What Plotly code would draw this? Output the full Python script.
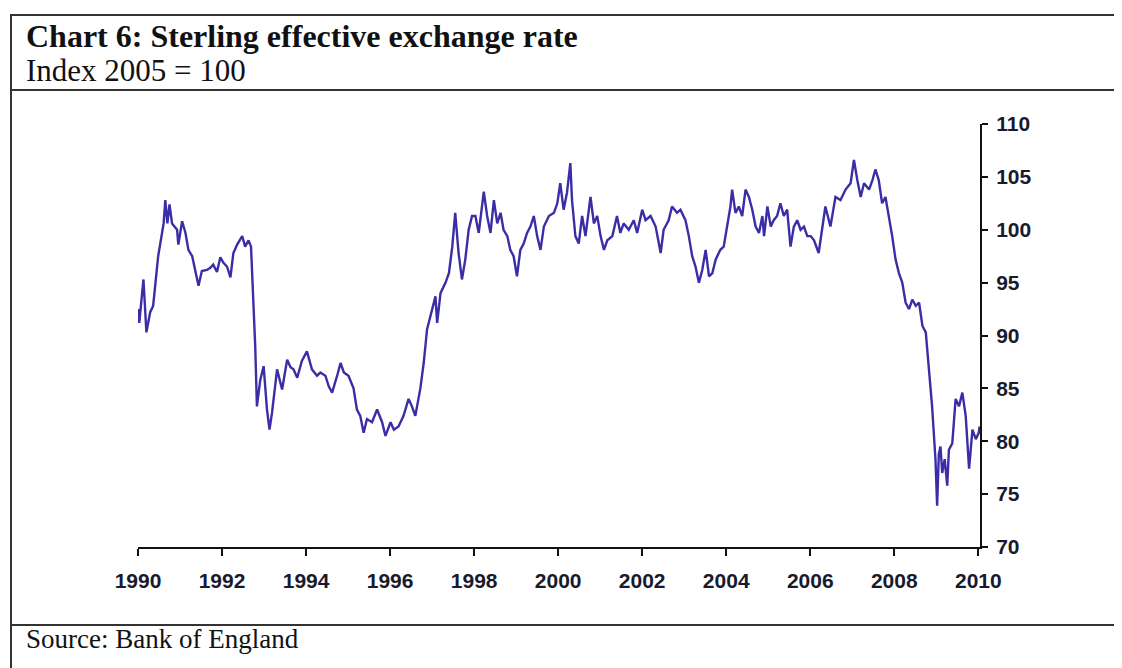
import plotly.graph_objects as go

# ---- data ----
years = [
    1990.01, 1990.03, 1990.13, 1990.20, 1990.29, 1990.36, 1990.48, 1990.61, 1990.65, 1990.70,
    1990.75, 1990.81, 1990.93, 1990.96, 1991.05, 1991.13, 1991.20, 1991.29, 1991.36, 1991.44,
    1991.52, 1991.64, 1991.72, 1991.79, 1991.88, 1991.96, 1992.03, 1992.12, 1992.20, 1992.27,
    1992.36, 1992.48, 1992.55, 1992.63, 1992.69, 1992.72, 1992.79, 1992.83, 1992.91, 1992.99,
    1993.03, 1993.07, 1993.13, 1993.19, 1993.31, 1993.43, 1993.55, 1993.63, 1993.70, 1993.79,
    1993.90, 1994.02, 1994.14, 1994.26, 1994.34, 1994.46, 1994.54, 1994.62, 1994.74, 1994.82,
    1994.90, 1995.01, 1995.13, 1995.21, 1995.29, 1995.37, 1995.45, 1995.57, 1995.69, 1995.81,
    1995.89, 1996.01, 1996.09, 1996.20, 1996.32, 1996.44, 1996.52, 1996.60, 1996.72, 1996.80,
    1996.88, 1997.00, 1997.08, 1997.12, 1997.20, 1997.32, 1997.40, 1997.48, 1997.55, 1997.63,
    1997.71, 1997.79, 1997.87, 1997.95, 1998.03, 1998.11, 1998.23, 1998.31, 1998.39, 1998.47,
    1998.55, 1998.63, 1998.70, 1998.79, 1998.86, 1998.94, 1999.02, 1999.10, 1999.18, 1999.26,
    1999.34, 1999.42, 1999.50, 1999.58, 1999.66, 1999.78, 1999.90, 1999.98, 2000.05, 2000.13,
    2000.21, 2000.29, 2000.33, 2000.41, 2000.49, 2000.57, 2000.65, 2000.77, 2000.85, 2000.93,
    2001.01, 2001.09, 2001.17, 2001.29, 2001.40, 2001.48, 2001.56, 2001.68, 2001.80, 2001.88,
    2002.00, 2002.08, 2002.20, 2002.32, 2002.44, 2002.51, 2002.63, 2002.71, 2002.83, 2002.91,
    2003.03, 2003.11, 2003.19, 2003.27, 2003.35, 2003.43, 2003.51, 2003.59, 2003.67, 2003.75,
    2003.86, 2003.94, 2004.02, 2004.10, 2004.14, 2004.22, 2004.30, 2004.38, 2004.46, 2004.54,
    2004.62, 2004.70, 2004.78, 2004.86, 2004.90, 2004.98, 2005.06, 2005.13, 2005.21, 2005.29,
    2005.37, 2005.45, 2005.53, 2005.61, 2005.69, 2005.77, 2005.85, 2005.93, 2006.01, 2006.09,
    2006.20, 2006.36, 2006.48, 2006.60, 2006.72, 2006.84, 2006.96, 2007.04, 2007.12, 2007.20,
    2007.28, 2007.40, 2007.48, 2007.55, 2007.63, 2007.71, 2007.79, 2007.87, 2007.95, 2008.03,
    2008.11, 2008.19, 2008.27, 2008.35, 2008.43, 2008.51, 2008.59, 2008.67, 2008.75, 2008.79,
    2008.85, 2008.90, 2008.94, 2008.98, 2009.02, 2009.06, 2009.10, 2009.14, 2009.20, 2009.26,
    2009.30, 2009.38, 2009.46, 2009.54, 2009.62, 2009.70, 2009.78, 2009.86, 2009.94, 2010.01,
    2010.03,
]
index_values = [
    92.5, 91.2, 95.3, 90.3, 92.2, 92.8, 97.5, 100.6, 102.8, 100.6,
    102.4, 100.6, 100.0, 98.6, 100.8, 99.7, 98.1, 97.5, 96.2, 94.7,
    96.1, 96.2, 96.4, 96.7, 96.0, 97.4, 96.9, 96.5, 95.5, 97.8,
    98.6, 99.4, 98.4, 99.0, 98.4, 96.0, 89.0, 83.3, 85.8, 87.1,
    84.6, 83.0, 81.1, 82.7, 86.8, 84.9, 87.7, 87.0, 86.8, 86.0,
    87.6, 88.5, 86.8, 86.2, 86.5, 86.2, 85.2, 84.6, 86.2, 87.4,
    86.5, 86.2, 85.0, 83.0, 82.4, 80.8, 82.1, 81.8, 83.0, 81.8,
    80.5, 81.8, 81.1, 81.4, 82.4, 84.0, 83.3, 82.4, 85.0, 87.4,
    90.6, 92.5, 93.7, 91.2, 94.0, 95.0, 95.9, 98.4, 101.6, 97.8,
    95.3, 97.2, 100.0, 101.3, 101.3, 99.7, 103.6, 101.3, 99.7, 102.8,
    100.6, 101.6, 100.0, 99.4, 98.1, 97.5, 95.6, 98.1, 98.7, 99.7,
    100.3, 101.3, 99.4, 98.1, 100.3, 101.3, 101.6, 102.5, 104.4, 101.9,
    103.5, 106.3, 102.8, 99.4, 98.7, 101.3, 99.4, 103.1, 100.6, 101.3,
    99.4, 98.1, 99.0, 99.4, 101.3, 99.7, 100.6, 100.0, 100.9, 99.7,
    101.9, 100.9, 101.3, 100.3, 97.8, 100.0, 100.9, 102.2, 101.6, 101.9,
    100.9, 99.4, 97.5, 96.5, 95.0, 96.2, 98.1, 95.6, 95.9, 97.2,
    98.1, 98.4, 100.3, 102.2, 103.8, 101.6, 102.2, 101.3, 103.8, 103.1,
    101.9, 100.3, 99.7, 101.3, 99.4, 102.2, 100.3, 100.9, 101.3, 102.5,
    101.3, 101.9, 98.4, 100.3, 100.9, 100.0, 100.3, 99.4, 99.4, 99.0,
    97.8, 102.2, 100.3, 103.1, 102.8, 103.8, 104.4, 106.6, 104.7, 103.1,
    104.4, 103.8, 104.7, 105.7, 104.7, 102.5, 103.1, 101.3, 99.4, 97.2,
    95.9, 95.0, 93.1, 92.5, 93.4, 92.8, 93.1, 90.9, 90.3, 88.4,
    85.8, 83.3, 80.8, 78.3, 73.9, 78.8, 79.5, 77.0, 78.3, 75.8,
    79.2, 79.8, 84.0, 83.3, 84.6, 82.4, 77.4, 81.1, 80.2, 80.8,
    81.4,
]
x_tick_years = [1990, 1992, 1994, 1996, 1998, 2000, 2002, 2004, 2006, 2008, 2010]
y_tick_values = [70, 75, 80, 85, 90, 95, 100, 105, 110]

title_text = "Chart 6: Sterling effective exchange rate"
subtitle_text = "Index 2005 = 100"
source_text = "Source: Bank of England"

# ---- layout geometry (pixels, relative to the figure; page adds 8px offset) ----
W, H = 1122, 668
ML, MR, MT, MB = 130, 150, 116, 129
PW, PH = W - ML - MR, H - MT - MB


def px(x):
    return (x - ML) / PW


def py(y):
    return (H - MB - y) / PH


fig = go.Figure()
fig.add_trace(go.Scatter(
    x=years, y=index_values, mode="lines",
    line=dict(color="#3B2DA6", width=2.4),
    hoverinfo="x+y", showlegend=False,
))

frame_col = "#333333"
serif = "Liberation Serif, Times New Roman, serif"
sans = "Liberation Sans, Arial, sans-serif"
shapes = [
    dict(type="rect", xref="paper", yref="paper", x0=px(3), x1=px(1110), y0=py(700), y1=py(7),
         line=dict(color=frame_col, width=2), fillcolor="rgba(0,0,0,0)", layer="below"),
    dict(type="line", xref="paper", yref="paper", x0=px(3), x1=px(1110), y0=py(82), y1=py(82),
         line=dict(color=frame_col, width=2)),
    dict(type="line", xref="paper", yref="paper", x0=px(3), x1=px(1110), y0=py(617), y1=py(617),
         line=dict(color=frame_col, width=2)),
]

annotations = [
    dict(text="<b>" + title_text + "</b>", xref="paper", yref="paper", x=px(16), y=py(8),
         xanchor="left", yanchor="top", showarrow=False,
         font=dict(family=serif, size=32, color="#111111")),
    dict(text=subtitle_text, xref="paper", yref="paper", x=px(16), y=py(43),
         xanchor="left", yanchor="top", showarrow=False,
         font=dict(family=serif, size=31, color="#111111")),
    dict(text=source_text, xref="paper", yref="paper", x=px(16), y=py(614),
         xanchor="left", yanchor="top", showarrow=False,
         font=dict(family=serif, size=27, color="#111111")),
]

fig.update_layout(
    width=W, height=H,
    margin=dict(l=ML, r=MR, t=MT, b=MB, pad=0),
    paper_bgcolor="white", plot_bgcolor="white",
    shapes=shapes, annotations=annotations,
    xaxis=dict(
        range=[1990, 2010.04], tickmode="array", tickvals=x_tick_years,
        ticktext=[str(v) for v in x_tick_years],
        showgrid=False, zeroline=False, showline=True, linecolor="#111111", linewidth=2,
        ticks="outside", ticklen=7, tickwidth=2, tickcolor="#111111",
        ticklabelstandoff=7,
        tickfont=dict(family=sans, size=21, color="#1a1a2e", weight="bold"),
    ),
    yaxis=dict(
        range=[70, 110], side="right", tickmode="array", tickvals=y_tick_values,
        showgrid=False, zeroline=False, showline=True, linecolor="#111111", linewidth=2,
        ticks="outside", ticklen=6, tickwidth=2, tickcolor="#111111",
        ticklabelstandoff=4,
        tickfont=dict(family=sans, size=21, color="#1a1a2e", weight="bold"),
    ),
)

fig.write_html("out.html")
